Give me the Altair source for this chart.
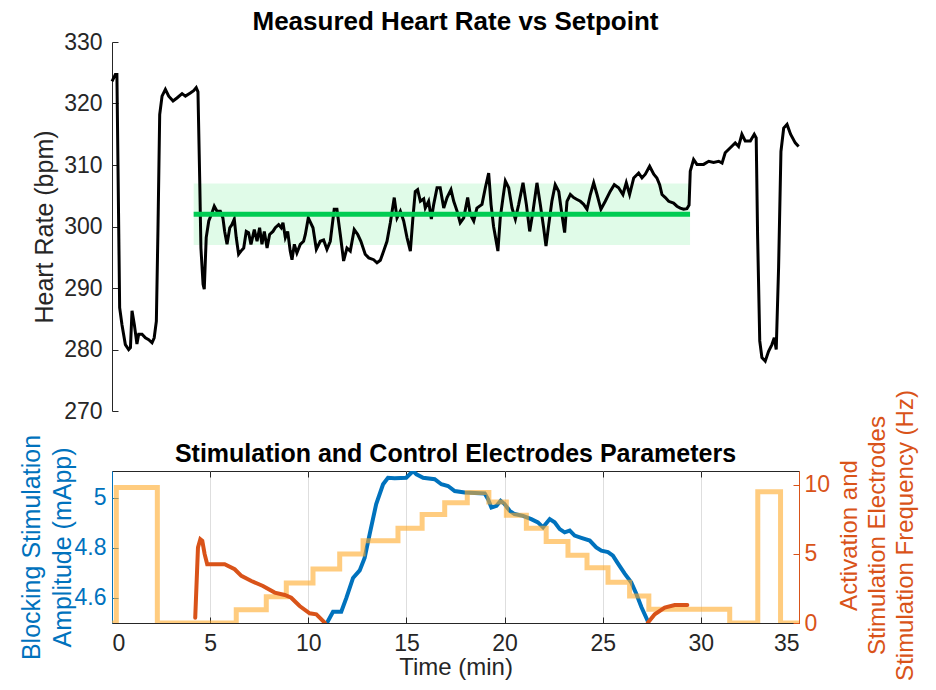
import altair as alt
import pandas as pd

FONT = "Liberation Sans"
DARK = "#262626"
GRID = "#DEDEDE"
BLUE = "#0072BD"
RED = "#D95319"
LIGHT = "#FFAA2A"
GREEN = "#00CC52"
BAND = "#00E040"

W, H1, H2 = 687, 369, 152

# ---------------- data ----------------
x_ticks = [0, 5, 10, 15, 20, 25, 30, 35]
hr_ticks = [270, 280, 290, 300, 310, 320, 330]
amp_ticks = [4.6, 4.8, 5.0]
hz_ticks = [0, 5, 10]

band_start, band_end = 4.16, 29.45
band_low, band_high = 297, 307
setpoint = 302

hr_time = [
    0.0, 0.17, 0.25, 0.39, 0.51, 0.68, 0.85, 0.94, 1.02, 1.14,
    1.27, 1.36, 1.53, 1.70, 1.87, 2.04, 2.15, 2.26, 2.34, 2.43,
    2.55, 2.72, 2.89, 3.11, 3.31, 3.57, 3.74, 3.99, 4.16, 4.29,
    4.38, 4.47, 4.53, 4.64, 4.70, 4.80, 4.93, 5.09, 5.21, 5.35,
    5.52, 5.65, 5.74, 5.86, 6.00, 6.11, 6.23, 6.33, 6.45, 6.57,
    6.71, 6.84, 6.96, 7.08, 7.25, 7.39, 7.52, 7.64, 7.76, 7.90,
    8.03, 8.20, 8.32, 8.49, 8.62, 8.71, 8.83, 8.95, 9.08, 9.17,
    9.29, 9.42, 9.59, 9.76, 9.85, 10.0, 10.24, 10.41, 10.61, 10.78,
    10.95, 11.12, 11.32, 11.46, 11.63, 11.80, 11.97, 12.14, 12.34, 12.52,
    12.68, 12.90, 13.08, 13.33, 13.50, 13.67, 13.84, 14.01, 14.18, 14.38,
    14.52, 14.69, 14.86, 15.03, 15.20, 15.33, 15.45, 15.57, 15.71, 15.88,
    15.96, 16.13, 16.27, 16.39, 16.56, 16.72, 16.90, 17.07, 17.27, 17.41,
    17.58, 17.74, 17.92, 18.12, 18.25, 18.43, 18.59, 18.85, 19.02, 19.19,
    19.31, 19.44, 19.58, 19.66, 19.78, 19.92, 20.04, 20.21, 20.38, 20.55,
    20.72, 20.94, 21.11, 21.28, 21.45, 21.65, 21.82, 21.99, 22.11, 22.25,
    22.41, 22.58, 22.76, 22.92, 23.06, 23.18, 23.35, 23.52, 23.69, 23.86,
    24.03, 24.20, 24.37, 24.54, 24.71, 24.91, 25.13, 25.38, 25.59, 25.81,
    26.03, 26.20, 26.37, 26.58, 26.83, 27.00, 27.17, 27.39, 27.60, 27.76,
    27.90, 28.02, 28.19, 28.36, 28.61, 28.78, 28.95, 29.12, 29.29, 29.40,
    29.46, 29.63, 29.80, 30.14, 30.40, 30.65, 30.91, 31.08, 31.24, 31.50,
    31.75, 31.92, 32.09, 32.26, 32.52, 32.72, 32.82, 32.89, 33.00, 33.11,
    33.28, 33.45, 33.62, 33.74, 33.84, 33.96, 34.08, 34.22, 34.39, 34.57,
    34.81, 34.98,
]
hr_bpm = [
    323.6, 324.7, 324.7, 286.8, 284.0, 280.8, 280.0, 280.3, 286.3, 284.0,
    280.9, 282.5, 282.5, 281.9, 281.6, 281.1, 281.9, 284.6, 299.2, 318.2,
    321.2, 322.3, 321.2, 320.4, 320.9, 321.6, 321.2, 321.7, 322.1, 322.6,
    321.9, 307.4, 296.5, 290.6, 289.8, 298.2, 300.9, 302.2, 303.3, 302.5,
    302.5, 301.4, 299.2, 297.1, 299.8, 300.3, 301.2, 298.2, 295.5, 296.0,
    296.5, 299.2, 299.0, 297.1, 299.5, 297.6, 299.8, 297.1, 299.2, 296.5,
    298.7, 299.2, 299.8, 300.3, 299.8, 300.6, 298.2, 299.2, 296.0, 294.6,
    297.1, 295.7, 297.1, 297.6, 298.7, 301.4, 299.8, 296.3, 297.6, 297.8,
    296.3, 297.6, 302.8, 302.8, 298.7, 294.4, 296.5, 296.0, 299.5, 298.7,
    297.6, 295.5, 294.9, 294.6, 294.1, 294.5, 296.0, 297.6, 300.6, 304.7,
    301.4, 302.5, 300.9, 298.2, 296.0, 301.4, 305.7, 306.0, 304.1, 304.5,
    303.0, 304.1, 301.2, 303.6, 306.3, 306.3, 303.0, 304.7, 306.0, 304.1,
    302.5, 300.6, 301.4, 304.7, 302.0, 300.9, 303.0, 303.6, 306.3, 308.7,
    303.6, 300.0, 297.5, 296.0, 301.4, 304.7, 307.4, 306.3, 303.0, 301.2,
    303.6, 307.1, 303.6, 299.2, 302.5, 307.1, 303.6, 299.8, 296.8, 300.3,
    304.1, 306.8, 305.7, 302.0, 299.0, 304.1, 305.2, 304.7, 304.4, 304.1,
    303.6, 302.8, 305.2, 307.1, 305.2, 302.8, 304.1, 305.7, 306.8, 306.3,
    305.2, 307.1, 305.2, 307.9, 308.7, 307.9, 308.5, 309.8, 308.5, 307.9,
    306.8, 305.2, 304.7, 304.1, 303.8, 303.3, 303.0, 302.8, 302.9, 303.5,
    309.0, 310.9, 310.1, 310.1, 310.6, 310.4, 310.6, 310.3, 312.0, 312.8,
    313.6, 313.0, 315.0, 313.9, 313.9, 315.0, 314.4, 298.7, 281.4, 278.7,
    278.1, 279.7, 280.8, 281.9, 280.0, 293.3, 312.2, 316.0, 316.6, 315.0,
    313.6, 313.0,
]

blue_time = [
    10.95, 11.26, 11.68, 11.94, 12.28, 12.62, 12.87, 13.13, 13.46, 13.81,
    14.06, 14.40, 14.99, 15.17, 15.34, 15.51, 15.85, 16.44, 16.78, 17.12,
    17.46, 17.97, 18.99, 19.16, 19.33, 19.59, 19.80, 20.00, 20.26, 20.51,
    20.94, 21.36, 21.70, 21.96, 22.30, 22.55, 22.81, 23.06, 23.32, 23.57,
    23.91, 24.34, 24.67, 24.93, 25.27, 25.52, 25.78, 26.12, 26.45, 26.71,
    26.97, 27.31,
]
blue_amp = [
    4.50, 4.545, 4.545, 4.60, 4.68, 4.71, 4.76, 4.856, 4.975, 5.054,
    5.08, 5.078, 5.08, 5.094, 5.107, 5.094, 5.08, 5.074, 5.054, 5.047,
    5.027, 5.021, 5.017, 4.994, 4.961, 4.968, 4.988, 4.975, 4.948, 4.935,
    4.928, 4.915, 4.902, 4.882, 4.915, 4.902, 4.875, 4.862, 4.869, 4.849,
    4.840, 4.829, 4.802, 4.789, 4.783, 4.769, 4.737, 4.697, 4.663, 4.617,
    4.564, 4.505,
]

step_time = [0.0, 0.22, 2.31, 6.33, 7.86, 8.88, 10.24, 11.60, 12.79, 14.57,
             15.80, 16.95, 18.10, 19.20, 20.09, 21.11, 22.12, 23.23, 24.20,
             25.27, 26.37, 27.35, 31.47, 32.90, 34.06, 35.0]
step_hz = [0.0, 9.8, 0.0, 0.95, 1.9, 2.9, 3.9, 5.0, 5.95, 6.85,
           7.85, 8.7, 9.45, 8.75, 7.8, 6.85, 5.9, 4.9, 4.0,
           2.95, 1.95, 1.0, 0.0, 9.5, 0.0, 0.0]

red1_time = [4.24, 4.38, 4.50, 4.60, 4.72, 4.85, 5.06, 5.74, 6.25, 6.59,
             7.10, 7.69, 8.29, 8.80, 9.13, 9.56, 10.07, 10.41, 10.84]
red1_hz = [0.38, 5.46, 6.06, 5.94, 4.98, 4.25, 4.25, 4.25, 3.89, 3.41,
           3.04, 2.68, 2.20, 2.03, 1.83, 1.23, 0.70, 0.63, 0.02]
red2_time = [27.30, 27.65, 28.16, 28.67, 29.31]
red2_hz = [0.02, 0.63, 1.11, 1.30, 1.30]

assert len(hr_time) == len(hr_bpm)
assert len(blue_time) == len(blue_amp)
assert len(step_time) == len(step_hz)

hr_df = pd.DataFrame({"t": hr_time, "bpm": hr_bpm})
band_df = pd.DataFrame({"t0": [band_start], "t1": [band_end],
                        "lo": [band_low], "hi": [band_high], "sp": [setpoint]})
blue_df = pd.DataFrame({"t": blue_time, "amp": blue_amp})
step_df = pd.DataFrame({"t": step_time, "hz": step_hz})
red_df = pd.concat([
    pd.DataFrame({"t": red1_time, "hz": red1_hz, "seg": 1}),
    pd.DataFrame({"t": red2_time, "hz": red2_hz, "seg": 2}),
])

# ---------------- helpers ----------------
xs = alt.Scale(domain=[0, 35], nice=False, zero=False)
ys_hr = alt.Scale(domain=[270, 330], nice=False, zero=False)
ys_amp = alt.Scale(domain=[4.5, 5.107], nice=False, zero=False)
ys_hz = alt.Scale(domain=[0, 11], nice=False, zero=False)


def tick_axis(orient, offset, color, values):
    return alt.Axis(orient=orient, offset=offset, labels=False, domain=False,
                    grid=False, ticks=True, tickSize=6, tickColor=color,
                    tickWidth=1, values=values, title=None)


# ---------------- top panel ----------------
band = alt.Chart(band_df).mark_rect(color=BAND, opacity=0.12).encode(
    x=alt.X("t0:Q", scale=xs, axis=alt.Axis(
        orient="bottom", values=x_ticks, grid=True, gridColor=GRID, gridWidth=1,
        labels=False, ticks=False, domain=False, title=None)),
    x2="t1:Q",
    y=alt.Y("lo:Q", scale=ys_hr, axis=alt.Axis(
        orient="left", values=hr_ticks, grid=False, ticks=False, labelPadding=10,
        labelFont=FONT, labelFontSize=23, labelColor=DARK, domainColor=DARK,
        domainWidth=1, title="Heart Rate (bpm)", titleFont=FONT, titleFontSize=25,
        titleFontWeight="normal", titleColor=DARK, titlePadding=6)),
    y2="hi:Q",
)
hr_line = alt.Chart(hr_df).mark_line(color="black", strokeWidth=3).encode(
    x=alt.X("t:Q", scale=xs, axis=None),
    y=alt.Y("bpm:Q", scale=ys_hr, axis=tick_axis("right", -W, DARK, hr_ticks)),
)
sp_line = alt.Chart(band_df).mark_rule(color=GREEN, strokeWidth=5).encode(
    x=alt.X("t0:Q", scale=xs, axis=None),
    x2="t1:Q",
    y=alt.Y("sp:Q", scale=ys_hr, axis=None),
)

top = alt.layer(band, hr_line, sp_line).resolve_axis(y="independent").properties(
    width=W, height=H1,
    view=alt.ViewBackground(strokeWidth=0, stroke="transparent"),
    title=alt.TitleParams("Measured Heart Rate vs Setpoint", font=FONT, fontSize=26,
                          fontWeight="bold", color="black", anchor="middle",
                          offset=-4),
)

# ---------------- bottom panel ----------------
blue_line = alt.Chart(blue_df).mark_line(color=BLUE, strokeWidth=4, clip=True).encode(
    x=alt.X("t:Q", scale=xs, axis=alt.Axis(
        orient="bottom", values=x_ticks, grid=True, gridColor=GRID, gridWidth=1,
        ticks=False, labelPadding=9, labelFont=FONT, labelFontSize=23,
        labelColor=DARK, domainColor=DARK, domainWidth=1, title="Time (min)",
        titleFont=FONT, titleFontSize=24, titleFontWeight="normal",
        titleColor=DARK, titlePadding=0)),
    y=alt.Y("amp:Q", scale=ys_amp, axis=alt.Axis(
        orient="left", values=amp_ticks, format="~g", grid=False, ticks=False,
        labelPadding=6, labelFont=FONT, labelFontSize=23, labelColor=BLUE,
        domainColor=BLUE, domainWidth=1,
        title=["Blocking Stimulation", "Amplitude (mApp)"], titleFont=FONT,
        titleFontSize=25, titleFontWeight="normal", titleColor=BLUE,
        titleX=-68, titleY=H2 / 2, titleLineHeight=31)),
)
blue_ticks = alt.Chart(blue_df).mark_line(strokeOpacity=0, clip=True).encode(
    x=alt.X("t:Q", scale=xs, axis=tick_axis("top", -H2, DARK, x_ticks)),
    y=alt.Y("amp:Q", scale=ys_amp, axis=tick_axis("right", -W, BLUE, amp_ticks)),
)
step_line = alt.Chart(step_df).mark_line(
    color=LIGHT, opacity=0.6, strokeWidth=5, interpolate="step-after", clip=True
).encode(
    x=alt.X("t:Q", scale=xs, axis=tick_axis("bottom", -H2, DARK, x_ticks)),
    y=alt.Y("hz:Q", scale=ys_hz, axis=alt.Axis(
        orient="right", values=hz_ticks, grid=False, ticks=False, labelPadding=5,
        labelFont=FONT, labelFontSize=23, labelColor=RED, domainColor=RED,
        domainWidth=1,
        title=["Activation and", "Stimulation Electrodes", "Stimulation Frequency (Hz)"],
        titleFont=FONT, titleFontSize=24, titleFontWeight="normal", titleColor=RED,
        titleAngle=270, titleBaseline="top", titleX=38, titleY=H2 / 2 - 12,
        titleLineHeight=28)),
)
red_line = alt.Chart(red_df).mark_line(
    color=RED, strokeWidth=4, strokeCap="round", clip=True
).encode(
    x=alt.X("t:Q", scale=xs, axis=None),
    y=alt.Y("hz:Q", scale=ys_hz, axis=tick_axis("left", -W, RED, hz_ticks)),
    detail="seg:N",
)

bottom = alt.layer(blue_line, blue_ticks, step_line, red_line).resolve_scale(
    y="independent"
).resolve_axis(x="independent", y="independent").properties(
    width=W, height=H2,
    view=alt.ViewBackground(stroke=DARK, strokeWidth=1),
    title=alt.TitleParams("Stimulation and Control Electrodes Parameters", font=FONT,
                          fontSize=25, fontWeight="bold", color="black",
                          anchor="middle", offset=-77),
)

chart = alt.vconcat(top, bottom, spacing=60, bounds="flush").properties(
    padding={"left": 10, "top": 1, "right": 5, "bottom": 0}
).configure_view(strokeWidth=0).configure(background="white")

chart.save("out.html", embed_options={"renderer": "svg", "actions": False})
